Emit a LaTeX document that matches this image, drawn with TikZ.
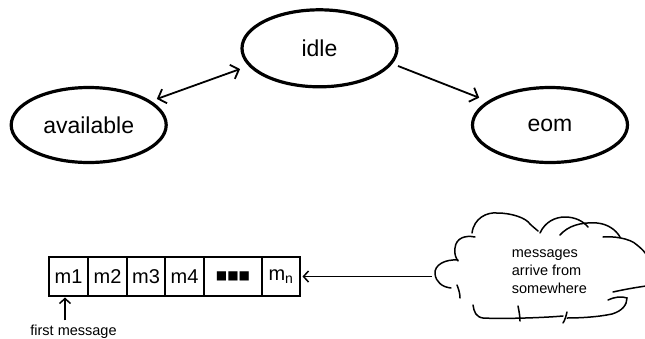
\documentclass[tikz,border=0pt]{standalone}
\usepackage{fontspec}
\setmainfont{Liberation Sans}
\newfontfamily\symfont{DejaVu Sans}
\usetikzlibrary{arrows.meta,positioning,shapes.geometric}

\begin{document}
\begin{tikzpicture}[
    x=1pt, y=-1pt,
    >={Straight Barb[length=7pt,width=15pt]},
    state/.style={ellipse, draw, line width=3.2pt, minimum width=155pt,
        minimum height=75pt, inner sep=0pt, font=\fontsize{23}{26}\selectfont},
    cell/.style={rectangle, draw, line width=1.5pt, minimum width=39pt,
        minimum height=39pt, inner sep=0pt, outer sep=0pt,
        font=\fontsize{20}{22}\selectfont},
    link/.style={line width=1.8pt},
    thin link/.style={line width=1.5pt, >={Straight Barb[length=5pt,width=11pt]}},
    cloudline/.style={line width=1.5pt, line cap=round}
]

\useasboundingbox (0,0) rectangle (645,338);

% States
\node[state] (available) at (88.7,125) {available};
\node[state, minimum height=77pt] (idle) at (319.5,48.3) {idle};
\node[state] (eom) at (550,125) {eom};

% Transitions
\draw[link,<->,shorten <=6pt,shorten >=9pt] (available.21) -- (idle.194);
\draw[link,->,shorten <=6pt,shorten >=9pt] (idle.-12) -- (eom.159);

% Message queue
\node[cell] (m1) at (68.5,276.5) {m1};
\node[cell, right=0pt of m1] (m2) {m2};
\node[cell, right=0pt of m2, minimum width=38pt] (m3) {m3};
\node[cell, right=0pt of m3] (m4) {m4};
\node[cell, right=0pt of m4, minimum width=58pt] (dots) {\symfont\fontsize{12}{12}\selectfont ■■■};
\node[cell, right=0pt of dots, minimum width=38pt] (mn) {m\textsubscript{n}};

% First message pointer
\node[inner sep=0pt, anchor=base, font=\fontsize{14.5}{17}\selectfont] (firstmsg) at (73.5,335) {first message};
\draw[thin link,->,shorten <=4pt,shorten >=1.5pt] ([xshift=-8.5pt]firstmsg.north) -- ([xshift=-8.5pt]firstmsg.north |- m1.south);

% Cloud
\draw[cloudline] (475,237) .. controls (465,235) and (456,238) .. (455,248) .. controls (454,254) and (456,258) .. (458,261);
\draw[cloudline] (472,233) .. controls (474,218) and (487,212) .. (497,213) .. controls (512,213) and (526,218) .. (530,224) .. controls (533,227) and (536,229) .. (538,231);
\draw[cloudline] (540,233) .. controls (545,222) and (555,217) .. (565,217) .. controls (575,217) and (583,221) .. (588,227);
\draw[cloudline] (560,235) .. controls (568,226) and (580,222) .. (597,223) .. controls (608,224) and (616,230) .. (620,237);
\draw[cloudline] (603,237) .. controls (612,236) and (630,238) .. (637,245) .. controls (642,249) and (645,252) .. (647,256);
\draw[cloudline] (613,292) .. controls (622,290) and (632,288) .. (646,286);
\draw[cloudline] (608,300) .. controls (614,297) and (622,296) .. (627,298) .. controls (627,305) and (622,311) .. (612,314) .. controls (598,317) and (580,318) .. (567,318);
\draw[cloudline] (567,312) .. controls (566,316) and (565,320) .. (563,323);
\draw[cloudline] (518,306) .. controls (519,311) and (520,316) .. (520,321);
\draw[cloudline] (473,305) .. controls (474,312) and (476,317) .. (483,318) .. controls (500,319) and (540,318) .. (563,316);
\draw[cloudline] (458,260) .. controls (445,259) and (434,265) .. (435,274) .. controls (436,282) and (442,287) .. (451,288);
\draw[cloudline] (457,285) .. controls (459,290) and (460,294) .. (460,298);
\coordinate (cloudleft) at (432,276.5);
\node[inner sep=0pt, anchor=west, align=left, font=\fontsize{14.5}{17.7}\selectfont] (cloudtext) at (511.7,271.7) {messages\\arrive from\\somewhere};

% Incoming messages
\draw[thin link,->,shorten >=2.5pt] (cloudleft) -- (mn.east);

\end{tikzpicture}
\end{document}
